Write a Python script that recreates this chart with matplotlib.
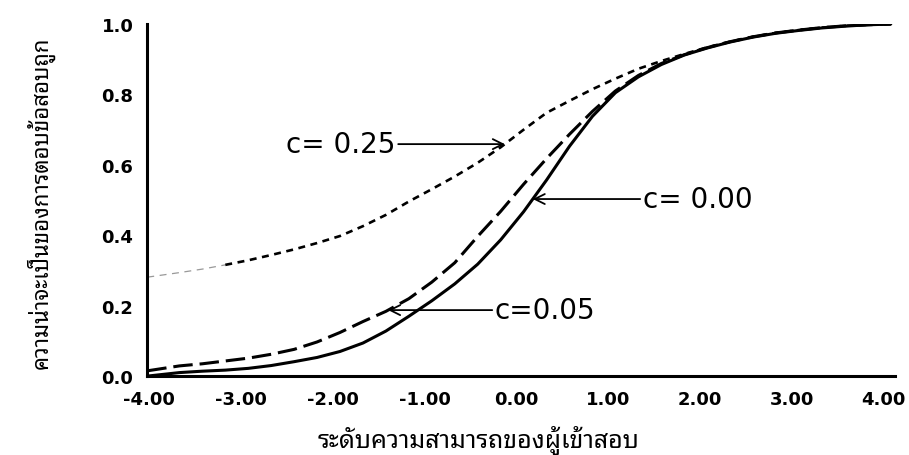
import numpy as np
import matplotlib
matplotlib.use('Agg')
import matplotlib.pyplot as plt
import matplotlib.transforms as mtransforms
from matplotlib import font_manager

# ability levels (theta) and probability of a correct answer
theta = [-4.1, -3.75, -3.5, -3.25, -3.0, -2.75, -2.5, -2.25, -2.0, -1.75, -1.5,
         -1.25, -1.0, -0.75, -0.5, -0.25, 0.0, 0.25, 0.5, 0.75, 1.0, 1.25, 1.5,
         1.75, 2.0, 2.25, 2.5, 2.75, 3.0, 3.25, 3.5, 3.75, 4.0]
p_c000 = [0.0, 0.010, 0.014, 0.017, 0.022, 0.030, 0.041, 0.053, 0.070, 0.094, 0.128,
          0.170, 0.214, 0.262, 0.318, 0.387, 0.467, 0.557, 0.653, 0.738, 0.805, 0.850, 0.885,
          0.912, 0.932, 0.949, 0.963, 0.974, 0.982, 0.989, 0.994, 0.998, 1.0]
p_c005 = [0.015, 0.029, 0.035, 0.043, 0.051, 0.062, 0.076, 0.097, 0.124, 0.155, 0.184,
          0.220, 0.267, 0.322, 0.397, 0.468, 0.545, 0.618, 0.687, 0.752, 0.810, 0.854, 0.888,
          0.913, 0.933, 0.950, 0.964, 0.975, 0.983, 0.990, 0.995, 0.998, 1.0]
p_c025 = [0.281, 0.294, 0.304, 0.316, 0.329, 0.344, 0.360, 0.378, 0.398, 0.426, 0.458,
          0.496, 0.531, 0.567, 0.606, 0.650, 0.700, 0.748, 0.782, 0.815, 0.845, 0.873, 0.895,
          0.915, 0.934, 0.950, 0.964, 0.975, 0.983, 0.990, 0.995, 0.998, 1.0]

xticks = [-4, -3, -2, -1, 0, 1, 2, 3, 4]
yticks = [0.0, 0.2, 0.4, 0.6, 0.8, 1.0]
xlabel = 'ระดับความสามารถของผู้เข้าสอบ'
ylabel = 'ความน่าจะเป็นของการตอบข้อสอบถูก'

# pick an installed font that has Thai glyphs
names = set(f.name for f in font_manager.fontManager.ttflist)
thai_font = 'DejaVu Sans'
for cand in ['Noto Sans Thai Looped', 'Sarabun', 'Noto Sans Thai', 'Anuphan', 'Athiti']:
    if cand in names:
        thai_font = cand
        break

plt.rcParams['font.family'] = ['DejaVu Sans', thai_font]
plt.rcParams['lines.scale_dashes'] = False

fig = plt.figure(figsize=(9.09, 4.56), dpi=100)
ax = fig.add_axes([0.162, 0.173, 0.823, 0.772])

ax.plot(theta, p_c000, color='black', lw=2.2, solid_capstyle='round')
ax.plot(theta, p_c005, color='black', lw=2.2, dashes=(14, 5))
# the c=0.25 curve fades to a thin grey line at the far left
th = np.array(theta)
pc = np.array(p_c025)
ax.plot(th[th <= -3.25], pc[th <= -3.25], color='#999999', lw=0.9, dashes=(5, 4))
ax.plot(th[th >= -3.25], pc[th >= -3.25], color='black', lw=1.9, dashes=(5, 4))

ax.set_xlim(-4.1, 4.05)
ax.set_ylim(0, 1.0)
ax.set_xticks(xticks)
ax.set_xticklabels(['%.2f' % t for t in xticks])
ax.set_yticks(yticks)
ax.set_yticklabels(['%.1f' % t for t in yticks])
ax.tick_params(length=0, labelsize=13, pad=10)
shift = mtransforms.ScaledTranslation(-7 / 100, 0, fig.dpi_scale_trans)
for t in ax.get_xticklabels():
    t.set_fontweight('bold')
    t.set_transform(t.get_transform() + shift)
for t in ax.get_yticklabels():
    t.set_fontweight('bold')
for s in ['top', 'right']:
    ax.spines[s].set_visible(False)
for s in ['left', 'bottom']:
    ax.spines[s].set_linewidth(2.2)


def label(curve, y, x_tail, text, side):
    # horizontal arrow ending where the curve reaches height y
    x_tip = np.interp(y, curve, theta)
    ax.annotate('', xy=(x_tip, y), xytext=(x_tail, y),
                arrowprops=dict(arrowstyle='->', lw=1.3, color='black',
                                shrinkA=0, shrinkB=0, mutation_scale=18))
    if side == 'left':
        ax.text(x_tail - 0.03, y, text, ha='right', va='center', fontsize=20)
    else:
        ax.text(x_tail + 0.03, y, text, ha='left', va='center', fontsize=20)


label(p_c025, 0.659, -1.366, 'c= 0.25', 'left')
label(p_c000, 0.503, 1.27, 'c= 0.00', 'right')
label(p_c005, 0.1875, -0.342, 'c=0.05', 'right')

fig.text(0.526, 0.035, xlabel, ha='center', va='center', fontsize=18,
         family=thai_font, fontweight='bold')
fig.text(0.045, 0.555, ylabel, ha='center', va='center', rotation=90,
         fontsize=16, family=thai_font)

fig.savefig('out.png', dpi=100)
